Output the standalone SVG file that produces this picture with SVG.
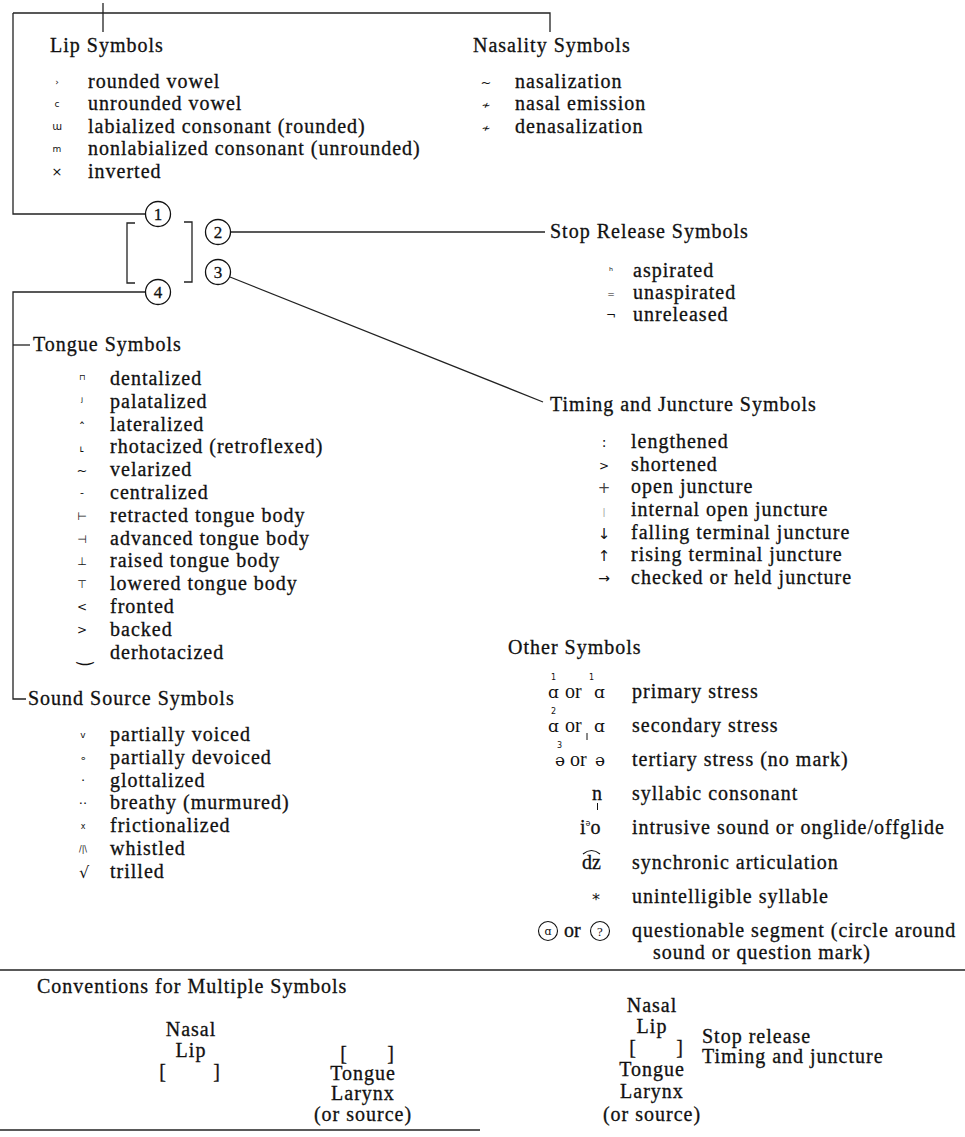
<svg xmlns="http://www.w3.org/2000/svg" width="965" height="1137" viewBox="0 0 965 1137">
<style>
text{font-family:"Liberation Serif","Times New Roman",serif;font-size:20px;letter-spacing:1px;fill:#111;stroke:#111;stroke-width:0.3}
.sym{font-family:"DejaVu Sans",sans-serif;letter-spacing:0;text-anchor:middle;stroke:none}
.ipa{font-family:"DejaVu Serif",serif;font-size:17px;letter-spacing:0;stroke:none}
.tiny{font-family:"DejaVu Sans",sans-serif;font-size:8px;letter-spacing:0;stroke:none}
.ser{font-family:"Liberation Serif",serif;font-size:20px;letter-spacing:0}
.ln{stroke:#222;stroke-width:1.3;fill:none}
.c{fill:#fff;stroke:#111;stroke-width:1.3}
.n{font-size:17px;text-anchor:middle;letter-spacing:0}
.m{text-anchor:middle}
</style>
<rect width="965" height="1137" fill="#fff"/>

<g id="connectors" class="ln">
<path d="M13,13 H550 V32"/>
<path d="M103,3 V32"/>
<path d="M13,13 V214 H145"/>
<path d="M231,232 H545"/>
<path d="M230,277 L543,402"/>
<path d="M145,292 H13 V699 H26"/>
<path d="M13,345 H30"/>
<path d="M135,223 H127 V283 H135"/>
<path d="M184,222 H192 V282 H184"/>
<path d="M0,970 H965"/>
<path d="M0,1130 H480"/>
</g>

<g id="node-1"><circle class="c" cx="158" cy="214" r="12.5"/><text class="n" x="158" y="220">1</text></g>
<g id="node-2"><circle class="c" cx="218" cy="232" r="12.5"/><text class="n" x="218" y="238">2</text></g>
<g id="node-3"><circle class="c" cx="218" cy="272" r="12.5"/><text class="n" x="218" y="278">3</text></g>
<g id="node-4"><circle class="c" cx="158" cy="292" r="12.5"/><text class="n" x="158" y="298">4</text></g>

<g id="lip-symbols">
<text x="50" y="52">Lip Symbols</text>
<text class="sym" x="57" y="85" style="font-size:9px">›</text>
<text class="sym" x="57" y="107" style="font-size:9px">c</text>
<text class="sym" x="57" y="130" style="font-size:10px">ɯ</text>
<text class="sym" x="57" y="152" style="font-size:9px">m</text>
<text class="sym" x="57" y="176" style="font-size:13px">×</text>
<text x="88" y="88">rounded vowel</text>
<text x="88" y="110">unrounded vowel</text>
<text x="88" y="133">labialized consonant (rounded)</text>
<text x="88" y="155">nonlabialized consonant (unrounded)</text>
<text x="88" y="178">inverted</text>
</g>

<g id="nasality-symbols">
<text x="473" y="52">Nasality Symbols</text>
<text class="sym" x="486" y="87" style="font-size:13px">~</text>
<text class="sym" x="486" y="109" style="font-size:11px">≁</text>
<text class="sym" x="486" y="132" style="font-size:11px">≁</text>
<text x="515" y="88">nasalization</text>
<text x="515" y="110">nasal emission</text>
<text x="515" y="133">denasalization</text>
</g>

<g id="stop-release-symbols">
<text x="550" y="238">Stop Release Symbols</text>
<text class="sym" x="611" y="275" style="font-size:10px">ʰ</text>
<text class="sym" x="611" y="297" style="font-size:9px">=</text>
<text class="sym" x="611" y="319" style="font-size:12px">¬</text>
<text x="633" y="277">aspirated</text>
<text x="633" y="299">unaspirated</text>
<text x="633" y="321">unreleased</text>
</g>

<g id="timing-juncture-symbols">
<text x="550" y="411">Timing and Juncture Symbols</text>
<text class="sym" x="604" y="447" style="font-size:14px">:</text>
<text class="sym" x="604" y="470" style="font-size:12px">&gt;</text>
<text class="sym" x="604" y="493" style="font-size:15px;fill:#444">+</text>
<text class="sym" x="604" y="515" style="font-size:9px;fill:#999">|</text>
<text class="sym" x="604" y="539" style="font-size:15px">↓</text>
<text class="sym" x="604" y="561" style="font-size:15px">↑</text>
<text class="sym" x="604" y="583" style="font-size:14px">→</text>
<text x="631" y="448">lengthened</text>
<text x="631" y="471">shortened</text>
<text x="631" y="493">open juncture</text>
<text x="631" y="516">internal open juncture</text>
<text x="631" y="539">falling terminal juncture</text>
<text x="631" y="561">rising terminal juncture</text>
<text x="631" y="584">checked or held juncture</text>
</g>

<g id="tongue-symbols">
<text x="33" y="351">Tongue Symbols</text>
<text class="sym" x="82" y="380" style="font-size:8px">⊓</text>
<text class="sym" x="82" y="406" style="font-size:12px">ʲ</text>
<text class="sym" x="82" y="432" style="font-size:13px">ˆ</text>
<text class="sym" x="82" y="452" style="font-size:13px">˪</text>
<text class="sym" x="82" y="475" style="font-size:13px">~</text>
<text class="sym" x="82" y="496" style="font-size:11px">-</text>
<text class="sym" x="82" y="520" style="font-size:11px">⊢</text>
<text class="sym" x="82" y="543" style="font-size:11px">⊣</text>
<text class="sym" x="82" y="565" style="font-size:11px">⊥</text>
<text class="sym" x="82" y="588" style="font-size:11px">⊤</text>
<text class="sym" x="82" y="611" style="font-size:12px">&lt;</text>
<text class="sym" x="82" y="634" style="font-size:12px">&gt;</text>
<text class="sym" x="85" y="661" style="font-size:20px">‿</text>
<text x="110" y="385">dentalized</text>
<text x="110" y="408">palatalized</text>
<text x="110" y="431">lateralized</text>
<text x="110" y="453">rhotacized (retroflexed)</text>
<text x="110" y="476">velarized</text>
<text x="110" y="499">centralized</text>
<text x="110" y="522">retracted tongue body</text>
<text x="110" y="545">advanced tongue body</text>
<text x="110" y="567">raised tongue body</text>
<text x="110" y="590">lowered tongue body</text>
<text x="110" y="613">fronted</text>
<text x="110" y="636">backed</text>
<text x="110" y="659">derhotacized</text>
</g>

<g id="sound-source-symbols">
<text x="28" y="705">Sound Source Symbols</text>
<text class="sym" x="83" y="738" style="font-size:9px">v</text>
<text class="sym" x="83" y="762" style="font-size:11px">∘</text>
<text class="sym" x="83" y="785" style="font-size:13px">·</text>
<text class="sym" x="83" y="808" style="font-size:13px">··</text>
<text class="sym" x="83" y="829" style="font-size:8px">x</text>
<text class="sym" x="83" y="852" style="font-size:8px">/|\</text>
<text class="sym" x="84" y="878" style="font-size:16px">√</text>
<text x="110" y="741">partially voiced</text>
<text x="110" y="764">partially devoiced</text>
<text x="110" y="787">glottalized</text>
<text x="110" y="809">breathy (murmured)</text>
<text x="110" y="832">frictionalized</text>
<text x="110" y="855">whistled</text>
<text x="110" y="878">trilled</text>
</g>

<g id="other-symbols">
<text x="508" y="654">Other Symbols</text>
<text class="ipa" y="698"><tspan x="548">ɑ</tspan><tspan class="tiny" x="551" y="680">1</tspan><tspan class="ser" x="565" y="698">or</tspan><tspan class="tiny" x="589" y="680">1</tspan><tspan x="594" y="698">ɑ</tspan></text>
<text class="ipa" y="732"><tspan x="548">ɑ</tspan><tspan class="tiny" x="551" y="714">2</tspan><tspan class="ser" x="565" y="732">or</tspan><tspan x="594" y="732">ɑ</tspan></text>
<path d="M587,733 V740" stroke="#111" stroke-width="1"/>
<text class="ipa" y="766"><tspan x="555">ə</tspan><tspan class="tiny" x="557" y="748">3</tspan><tspan class="ser" x="570" y="766">or</tspan><tspan x="595" y="766">ə</tspan></text>
<text x="592" y="800" style="letter-spacing:0">n</text>
<path d="M597.5,803 V810" stroke="#111" stroke-width="1"/>
<text x="580" y="834" style="letter-spacing:0">i<tspan class="tiny" dy="-8">ə</tspan><tspan dy="8">o</tspan></text>
<text x="582" y="869" style="letter-spacing:0">dz</text>
<path d="M583,854 Q591.5,847 600,854" stroke="#111" stroke-width="1.2" fill="none"/>
<text class="sym" x="596" y="905" style="font-size:16px">*</text>
<circle cx="548" cy="931" r="9.5" fill="none" stroke="#111" stroke-width="1.1"/>
<text class="ipa" x="548" y="935" style="font-size:11px;text-anchor:middle">ɑ</text>
<text x="564" y="937" style="letter-spacing:0">or</text>
<circle cx="600" cy="931" r="9.5" fill="none" stroke="#111" stroke-width="1.1"/>
<text x="600" y="936" style="font-size:13px;text-anchor:middle;letter-spacing:0;stroke:none">?</text>
<text x="632" y="698">primary stress</text>
<text x="632" y="732">secondary stress</text>
<text x="632" y="766">tertiary stress (no mark)</text>
<text x="632" y="800">syllabic consonant</text>
<text x="632" y="834">intrusive sound or onglide/offglide</text>
<text x="632" y="869">synchronic articulation</text>
<text x="632" y="903">unintelligible syllable</text>
<text x="632" y="937">questionable segment (circle around</text>
<text x="653" y="959">sound or question mark)</text>
</g>

<g id="conventions">
<text x="37" y="993">Conventions for Multiple Symbols</text>
<text class="m" x="191" y="1036">Nasal</text>
<text class="m" x="191" y="1057">Lip</text>
<text class="m" x="163" y="1078">[</text><text class="m" x="217" y="1078">]</text>
<text class="m" x="344" y="1060">[</text><text class="m" x="391" y="1060">]</text>
<text class="m" x="363" y="1080">Tongue</text>
<text class="m" x="363" y="1100">Larynx</text>
<text class="m" x="363" y="1121">(or source)</text>
<text class="m" x="652" y="1012">Nasal</text>
<text class="m" x="652" y="1033">Lip</text>
<text class="m" x="633" y="1054">[</text><text class="m" x="680" y="1054">]</text>
<text class="m" x="652" y="1076">Tongue</text>
<text class="m" x="652" y="1098">Larynx</text>
<text class="m" x="652" y="1121">(or source)</text>
<text x="702" y="1043">Stop release</text>
<text x="702" y="1063">Timing and juncture</text>
</g>
</svg>
